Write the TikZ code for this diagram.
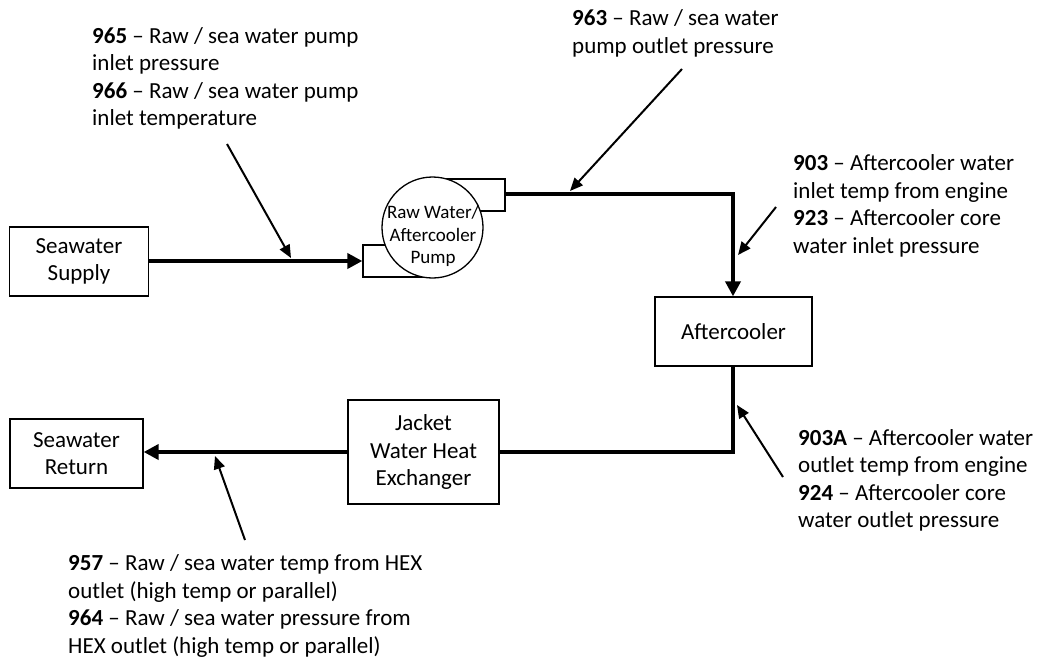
\documentclass[tikz,border=0pt]{standalone}
\usepackage{fontspec}
\setmainfont{Carlito}
\usetikzlibrary{arrows.meta}
\begin{document}
\begin{tikzpicture}[x=1pt,y=-1pt,
  txt/.style={font=\fontsize{23}{27.5}\selectfont},
  box/.style={txt,draw,line width=1.3pt,inner sep=0pt,align=center},
  port/.style={draw,line width=1.3pt,inner sep=0pt,minimum height=32pt},
  flow/.style={line width=4.5pt,line join=miter},
  flowtip/.style={-{Triangle[length=15pt,width=15pt]}},
  probe/.style={line width=2pt,-{Triangle[length=13pt,width=11pt]}},
  note/.style={txt,anchor=west,align=left,inner sep=0pt}]
\path[use as bounding box] (0,0) rectangle (1041,662);

% equipment
\node[box,minimum width=139pt,minimum height=69pt] (supply) at (79,261.5) {Seawater\\Supply};
\node[box,minimum width=133pt,minimum height=69pt] (return) at (76.5,453.5) {Seawater\\Return};
\node[box,minimum width=151pt,minimum height=104pt] (hex) at (423.5,452) {Jacket\\Water Heat\\Exchanger};
\node[box,minimum width=157pt,minimum height=69pt] (ac) at (733.5,331.5) {Aftercooler};

% pump: suction and discharge stubs behind the casing
\node[port,minimum width=69pt] (pin) at (397.5,261) {};
\node[port,minimum width=73pt] (pout) at (468.5,195) {};
\node[draw,circle,line width=1.3pt,fill=white,minimum size=101pt,inner sep=0pt] (pump) at (432.5,227.5) {};
\node[font=\fontsize{19}{22.5}\selectfont,align=center,inner sep=0pt] (pumplabel) at (433,236) {Raw Water/\\Aftercooler\\Pump};

% main water path
\coordinate (c1) at (733,194);
\coordinate (c2) at (733,452);
\draw[flow,flowtip] (supply.east |- pin.west) -- (pin.west);
\draw[flow,flowtip] (pout.east |- c1) -- (c1) -- (ac.north -| c1);
\draw[flow] (ac.south -| c2) -- (c2) -- (hex.east |- c2);
\draw[flow,flowtip] (hex.west |- c2) -- (return.east |- c2);

% instrument callouts
\node[note] (t965) at (92,78.5) {\textbf{965} – Raw / sea water pump\\inlet pressure\\\textbf{966} – Raw / sea water pump\\inlet temperature};
\node[note] (t963) at (572,33.5) {\textbf{963} – Raw / sea water\\pump outlet pressure};
\node[note] (t903) at (793,206) {\textbf{903} – Aftercooler water\\inlet temp from engine\\\textbf{923} – Aftercooler core\\water inlet pressure};
\node[note] (t903a) at (798,480.5) {\textbf{903A} – Aftercooler water\\outlet temp from engine\\\textbf{924} – Aftercooler core\\water outlet pressure};
\node[note] (t957) at (68,606) {\textbf{957} – Raw / sea water temp from HEX\\outlet (high temp or parallel)\\\textbf{964} – Raw / sea water pressure from\\HEX outlet (high temp or parallel)};

\coordinate (a965) at (227,144);   \coordinate (b965) at (291,258);
\coordinate (a963) at (682,69);    \coordinate (b963) at (570,191);
\coordinate (a903) at (776,207);   \coordinate (b903) at (738,255);
\coordinate (a903a) at (783,477);  \coordinate (b903a) at (737,405);
\coordinate (a957) at (245,540);   \coordinate (b957) at (215,456);
\draw[probe] (a965) -- (b965);
\draw[probe] (a963) -- (b963);
\draw[probe] (a903) -- (b903);
\draw[probe] (a903a) -- (b903a);
\draw[probe] (a957) -- (b957);
\end{tikzpicture}
\end{document}
